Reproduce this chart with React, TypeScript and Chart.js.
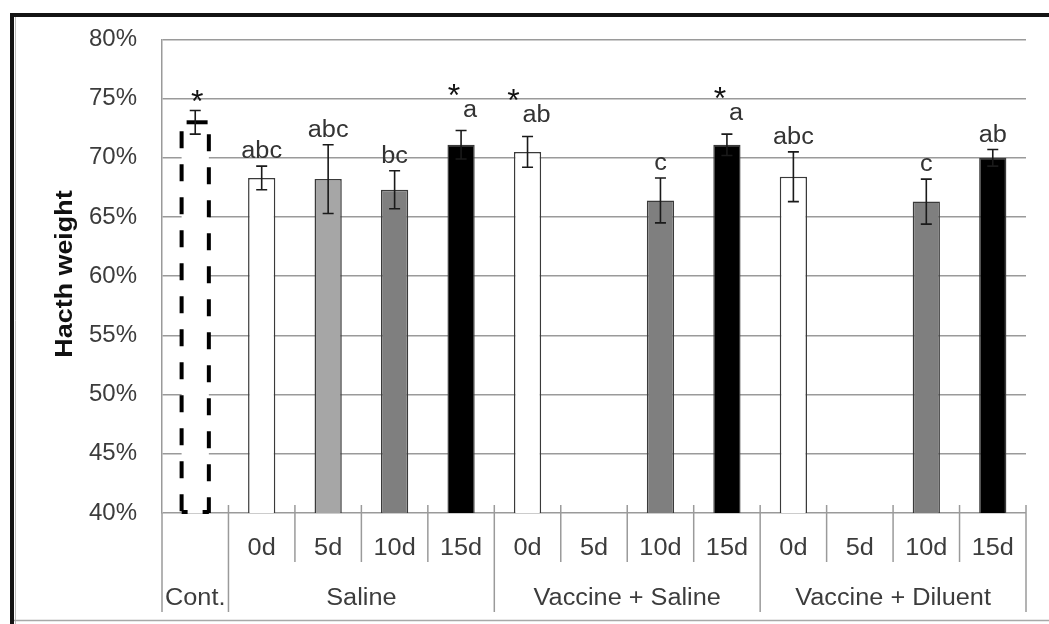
import React, { useEffect, useRef } from 'react';
import { Chart, registerables } from 'chart.js';

Chart.register(...registerables);

// ---- data ----
const groups = ['Cont.', 'Saline', 'Vaccine + Saline', 'Vaccine + Diluent'];
const groupSpans = [1, 4, 4, 4];
const dayLabels = ['', '0d', '5d', '10d', '15d', '0d', '5d', '10d', '15d', '0d', '5d', '10d', '15d'];
const values = [73.0, 68.3, 68.2, 67.3, 71.1, 70.5, null, 66.4, 71.1, 68.4, null, 66.3, 70.0];
const errors = [1.0, 1.0, 2.9, 1.6, 1.2, 1.3, null, 1.9, 0.9, 2.1, null, 1.9, 0.7];
const sigLetters = ['', 'abc', 'abc', 'bc', 'a', 'ab', '', 'c', 'a', 'abc', '', 'c', 'ab'];
const sigStars = [true, false, false, false, true, true, false, false, true, false, false, false, false];
const yMin = 40;
const yMax = 80;
const yStep = 5;
const yTitle = 'Hacth weight';

const FONT = '"Liberation Sans", Arial, Helvetica, sans-serif';
const SX = 1.1; // horizontal stretch of the reference's text

const dayColor: Record<string, string> = {
  '': '#ffffff',
  '0d': '#ffffff',
  '5d': '#a6a6a6',
  '10d': '#7f7f7f',
  '15d': '#000000',
};

const categoryNames: string[] = [];
{
  let idx = 0;
  groups.forEach((g, gi) => {
    for (let k = 0; k < groupSpans[gi]; k++) {
      categoryNames.push(dayLabels[idx] ? `${g} ${dayLabels[idx]}` : g);
      idx++;
    }
  });
}
const barColors = dayLabels.map((d) => dayColor[d]);
const barBorderWidths = dayLabels.map((d, i) => (i === 0 ? 0 : 1.5));

function drawText(ctx: CanvasRenderingContext2D, text: string, x: number, y: number, align: CanvasTextAlign, sx = SX) {
  ctx.save();
  ctx.translate(x, y);
  ctx.scale(sx, 1);
  ctx.textAlign = align;
  ctx.textBaseline = 'alphabetic';
  ctx.fillText(text, 0, 0);
  ctx.restore();
}

const decorPlugin = {
  id: 'decor',
  beforeDraw(chart: any) {
    const { ctx, width, height } = chart;
    ctx.save();
    ctx.fillStyle = '#ffffff';
    ctx.fillRect(0, 0, width, height);
    ctx.restore();
  },
  afterDatasetsDraw(chart: any) {
    const { ctx, chartArea } = chart;
    const ys = chart.scales.y;
    const meta = chart.getDatasetMeta(0);

    // dashed outline of the control bar
    const el0 = meta.data[0];
    if (el0) {
      const p = el0.getProps(['x', 'y', 'base', 'width'], true);
      const l = p.x - p.width / 2;
      const r = p.x + p.width / 2;
      const b = Math.min(p.base, chartArea.bottom);
      ctx.save();
      ctx.strokeStyle = '#000';
      ctx.lineWidth = 4;
      const seg = (x1: number, y1: number, x2: number, y2: number, dash: number[], off: number) => {
        ctx.setLineDash(dash);
        ctx.lineDashOffset = off;
        ctx.beginPath();
        ctx.moveTo(x1, y1);
        ctx.lineTo(x2, y2);
        ctx.stroke();
      };
      seg(l, p.y, l, b, [17, 16], 24);
      seg(l, p.y, r, p.y, [21, 40], 56);
      seg(r, p.y, r, b, [17, 16], 21);
      seg(l, b - 1, r, b - 1, [6, 15, 6, 0], 0);
      ctx.restore();
    }

    // error bars, letters, stars
    meta.data.forEach((el: any, i: number) => {
      const v = values[i];
      const e = errors[i];
      if (v == null || e == null) return;
      const cx = el.x;
      const top = ys.getPixelForValue(v + e);
      const bot = ys.getPixelForValue(v - e);
      ctx.save();
      ctx.strokeStyle = '#1a1a1a';
      ctx.lineWidth = 1.6;
      ctx.beginPath();
      ctx.moveTo(cx, top);
      ctx.lineTo(cx, bot);
      ctx.moveTo(cx - 5.5, top);
      ctx.lineTo(cx + 5.5, top);
      ctx.moveTo(cx - 5.5, bot);
      ctx.lineTo(cx + 5.5, bot);
      ctx.stroke();

      const letters = sigLetters[i];
      const star = sigStars[i];
      ctx.fillStyle = '#333';
      ctx.font = `23px ${FONT}`;
      let starX = cx + 2;
      let starCY = top - 14;
      if (letters) {
        const lx = cx + (star ? 9 : 0);
        const base = top - (star ? 14 : 8);
        drawText(ctx, letters, lx, base, 'center');
        const w = ctx.measureText(letters).width * SX;
        starX = lx - w / 2 - 9;
        starCY = base - 27;
      }
      if (star) {
        ctx.fillStyle = '#111';
        ctx.font = `32px ${FONT}`;
        const m = ctx.measureText('*');
        const asc = m.actualBoundingBoxAscent;
        const desc = m.actualBoundingBoxDescent;
        const baseline = starCY - (desc - asc) / 2;
        drawText(ctx, '*', starX, baseline, 'center', 1);
      }
      ctx.restore();
    });
  },
  afterDraw(chart: any) {
    const { ctx, chartArea } = chart;
    const xs = chart.scales.x;
    const n = categoryNames.length;
    const catW = (chartArea.right - chartArea.left) / n;
    const bottom = chartArea.bottom;

    ctx.save();
    // separators below the axis
    const groupBounds: number[] = [0];
    groupSpans.forEach((s) => groupBounds.push(groupBounds[groupBounds.length - 1] + s));
    ctx.strokeStyle = '#9a9a9a';
    ctx.lineWidth = 1.5;
    for (let k = 0; k <= n; k++) {
      const px = chartArea.left + k * catW;
      const isGroup = groupBounds.includes(k);
      const y1 = k === 0 ? bottom : bottom - 8;
      const y2 = isGroup ? bottom + 99 : bottom + 49;
      ctx.beginPath();
      ctx.moveTo(px, y1);
      ctx.lineTo(px, y2);
      ctx.stroke();
    }

    // day labels
    ctx.fillStyle = '#3c3c3c';
    ctx.font = `23px ${FONT}`;
    dayLabels.forEach((d, i) => {
      if (!d) return;
      drawText(ctx, d, xs.getPixelForValue(i), bottom + 42, 'center');
    });
    // group labels
    groups.forEach((g, gi) => {
      const start = groupBounds[gi];
      const c = chartArea.left + (start + groupSpans[gi] / 2) * catW;
      drawText(ctx, g, c, bottom + 92, 'center', SX);
    });

    // y title
    ctx.fillStyle = '#111';
    ctx.font = `bold 24px ${FONT}`;
    ctx.translate(72, 274);
    ctx.rotate(-Math.PI / 2);
    drawText(ctx, yTitle, 0, 0, 'center', 1.12);
    ctx.restore();

    // outer frame
    ctx.save();
    ctx.fillStyle = '#141414';
    ctx.fillRect(10, 13, 1039, 4);
    ctx.fillRect(10, 13, 4, 611);
    ctx.strokeStyle = '#bdbdbd';
    ctx.lineWidth = 1;
    ctx.beginPath();
    ctx.moveTo(15.5, 17);
    ctx.lineTo(15.5, 624);
    ctx.stroke();
    ctx.strokeStyle = '#a8a8a8';
    ctx.lineWidth = 1.5;
    ctx.beginPath();
    ctx.moveTo(14, 620.5);
    ctx.lineTo(1049, 620.5);
    ctx.stroke();
    ctx.restore();
  },
};

export default function App() {
  const ref = useRef<HTMLCanvasElement>(null);
  useEffect(() => {
    const canvas = ref.current;
    if (!canvas) return;
    const chart = new Chart(canvas, {
      type: 'bar',
      data: {
        labels: categoryNames,
        datasets: [
          {
            data: values as any,
            backgroundColor: barColors,
            borderColor: '#3a3a3a',
            borderWidth: barBorderWidths,
            barPercentage: 0.41,
            categoryPercentage: 1,
          },
        ],
      },
      options: {
        responsive: false,
        animation: false,
        devicePixelRatio: 1,
        layout: { padding: { left: 0, right: 23, top: 33, bottom: 111 } },
        plugins: {
          legend: { display: false },
          tooltip: { enabled: false },
        },
        scales: {
          x: { display: false },
          y: {
            min: yMin,
            max: yMax,
            ticks: {
              stepSize: yStep,
              callback: (v: any) => `${v}%`,
              padding: 25,
              color: '#3c3c3c',
              font: { family: FONT, size: 24 },
            },
            grid: { color: '#9a9a9a', lineWidth: 1.5, drawTicks: false },
            border: { display: true, color: '#9a9a9a', width: 1.5 },
            afterFit: (s: any) => {
              s.width = 162;
            },
          },
        },
      } as any,
      plugins: [decorPlugin],
    });
    return () => chart.destroy();
  }, []);
  return (
    <div style={{ position: 'absolute', left: 0, top: 0, width: 1049, height: 624, background: '#fff' }}>
      <canvas ref={ref} width={1049} height={624} style={{ display: 'block' }} />
    </div>
  );
}
